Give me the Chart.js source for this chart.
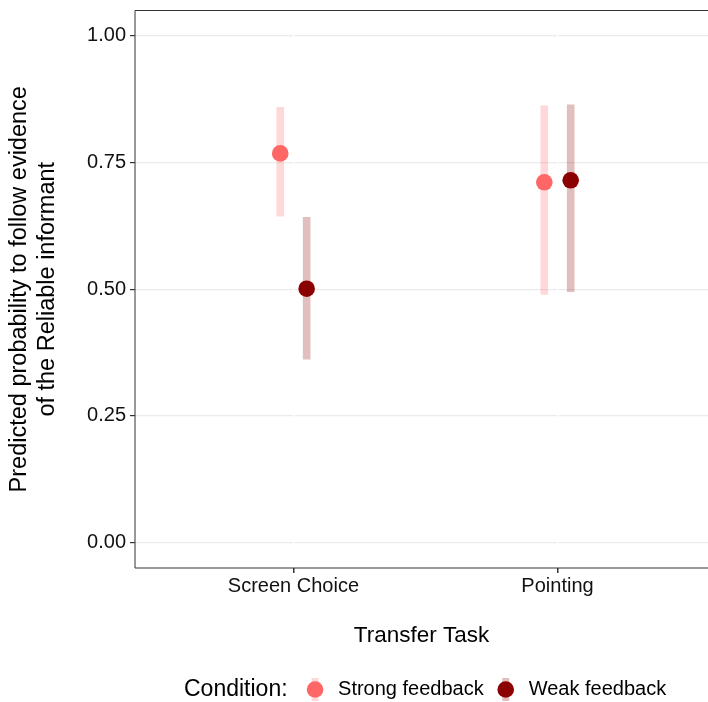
<!DOCTYPE html>
<html><head><meta charset="utf-8">
<script src="https://cdn.jsdelivr.net/npm/chart.js@4"></script>
<style>
html,body{margin:0;padding:0;background:#fff;overflow:hidden;width:708px;height:702px}
#wrap{position:relative;width:708px;height:702px;overflow:hidden}
canvas{display:block}
</style>
</head><body><div id="wrap"><canvas id="c" width="708" height="702"></canvas></div>
<script>
// ---- data ----
const categories = ["Screen Choice", "Pointing"];
const conditions = ["Strong feedback", "Weak feedback"];
const strongMean = [0.768, 0.711];
const strongLow  = [0.644, 0.490];
const strongHigh = [0.859, 0.862];
const weakMean   = [0.501, 0.715];
const weakLow    = [0.362, 0.495];
const weakHigh   = [0.642, 0.864];
const yTicks = [0.00, 0.25, 0.50, 0.75, 1.00];

// ---- styles ----
const FONT = "'Liberation Sans', Arial, Helvetica, sans-serif";
const pointColors = ["#FF6666", "#8B0000"];
const barColors = ["rgba(255,102,102,0.25)", "rgba(139,0,0,0.25)"];
const dodge = 0.05;

Chart.defaults.font.family = FONT;
Chart.defaults.color = "#000";

function pts(means, off) { return means.map((v, i) => ({x: i + 1 + off, y: v})); }
function bars(lo, hi, off) { return lo.map((v, i) => ({x: i + 1 + off, y: [v, hi[i]]})); }
function noPad(s) { s.paddingTop = 0; s.paddingBottom = 0; s.paddingLeft = 0; s.paddingRight = 0; }

// panel border (the right side of the panel lies just outside the picture)
const panelPlugin = {
  id: 'panel',
  afterDatasetsDraw(chart) {
    const {ctx, chartArea: a} = chart;
    ctx.save();
    ctx.strokeStyle = '#333333';
    ctx.lineWidth = 1;
    ctx.beginPath();
    ctx.moveTo(a.right + 2, a.top);
    ctx.lineTo(a.left, a.top);
    ctx.lineTo(a.left, a.bottom);
    ctx.lineTo(a.right + 2, a.bottom);
    ctx.stroke();
    ctx.restore();
  }
};

const legendPlugin = {
  id: 'customLegend',
  afterDraw(chart) {
    const ctx = chart.ctx;
    ctx.save();
    const y = 689.5;
    ctx.textBaseline = 'middle';
    ctx.textAlign = 'left';
    ctx.fillStyle = '#000';
    ctx.font = "23px " + FONT;
    let x = 184;
    ctx.fillText('Condition:', x, y);
    x += ctx.measureText('Condition:').width + 27.5;
    ctx.font = "20px " + FONT;
    conditions.forEach((lab, i) => {
      ctx.fillStyle = barColors[i];
      ctx.fillRect(x - 3.5, y - 11.5, 7, 23);
      ctx.fillStyle = pointColors[i];
      ctx.beginPath(); ctx.arc(x, y, 8.3, 0, Math.PI * 2); ctx.fill();
      ctx.fillStyle = '#000';
      ctx.fillText(lab, x + 23, y);
      x += 23 + ctx.measureText(lab).width + 22;
    });
    ctx.restore();
  }
};

new Chart(document.getElementById('c'), {
  type: 'bar',
  data: {
    datasets: [
      {type: 'bar', label: conditions[0], data: bars(strongLow, strongHigh, -dodge),
       backgroundColor: barColors[0], barThickness: 7, grouped: false, order: 2, borderWidth: 0},
      {type: 'bar', label: conditions[1], data: bars(weakLow, weakHigh, dodge),
       backgroundColor: barColors[1], barThickness: 7, grouped: false, order: 2, borderWidth: 0},
      {type: 'scatter', label: conditions[0], data: pts(strongMean, -dodge),
       backgroundColor: pointColors[0], borderWidth: 0, pointRadius: 8.3, order: 1},
      {type: 'scatter', label: conditions[1], data: pts(weakMean, dodge),
       backgroundColor: pointColors[1], borderWidth: 0, pointRadius: 8.3, order: 1}
    ]
  },
  options: {
    responsive: false,
    animation: false,
    devicePixelRatio: 1,
    layout: {autoPadding: false, padding: {top: 10.5, right: 0, left: 0, bottom: 0}},
    plugins: {legend: {display: false}, tooltip: {enabled: false}},
    scales: {
      x: {
        type: 'linear', min: 0.4, max: 2.57, offset: false,
        afterBuildTicks: s => { s.ticks = categories.map((c, i) => ({value: i + 1})); },
        afterFit: s => { s.height = 134; noPad(s); },
        ticks: {callback: v => categories[Math.round(v) - 1], font: {size: 20}, color: '#111', padding: 1, maxRotation: 0, autoSkip: false},
        grid: {color: '#ffffff', lineWidth: 1.5, offset: false, tickColor: '#333333', tickLength: 5, z: -0.5},
        border: {display: false},
        title: {display: true, text: 'Transfer Task', font: {size: 22.5}, color: '#000', padding: {top: 0, bottom: 52.5}}
      },
      y: {
        type: 'linear', min: -0.05, max: 1.05,
        afterBuildTicks: s => { s.ticks = yTicks.map(v => ({value: v})); },
        afterFit: s => { s.width = 135; noPad(s); },
        ticks: {callback: v => v.toFixed(2), font: {size: 20}, color: '#111', padding: 4},
        grid: {color: '#EBEBEB', lineWidth: 1.2, tickColor: '#333333', tickLength: 5},
        border: {display: false},
        title: {display: true, text: ['Predicted probability to follow evidence', 'of the Reliable informant'],
                font: {size: 23.5, lineHeight: 1.15}, color: '#000', padding: {top: 6.5, bottom: 0}}
      }
    }
  },
  plugins: [panelPlugin, legendPlugin]
});
</script>
</body></html>
